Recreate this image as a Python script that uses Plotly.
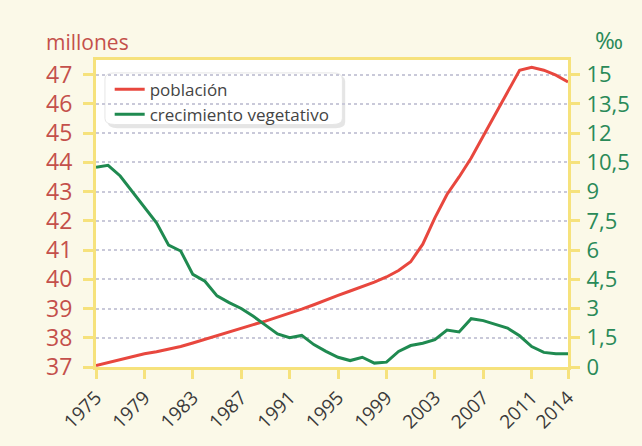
import plotly.graph_objects as go

years = list(range(1975, 2015))
poblacion = [37.05, 37.15, 37.25, 37.35, 37.45, 37.52, 37.6, 37.7, 37.82, 37.95,
             38.07, 38.2, 38.32, 38.45, 38.57, 38.7, 38.83, 38.98, 39.13, 39.3,
             39.45, 39.6, 39.75, 39.9, 40.08, 40.3, 40.6, 41.2, 42.1, 42.9,
             43.5, 44.15, 44.9, 45.65, 46.4, 47.15, 47.25, 47.15, 46.98, 46.75]
crecimiento = [10.25, 10.35, 9.8, 9.0, 8.2, 7.4, 6.25, 5.95, 4.75, 4.4,
               3.65, 3.3, 3.0, 2.6, 2.15, 1.7, 1.5, 1.62, 1.15, 0.8,
               0.5, 0.33, 0.5, 0.2, 0.25, 0.8, 1.1, 1.22, 1.4, 1.9,
               1.8, 2.48, 2.38, 2.2, 2.0, 1.6, 1.05, 0.75, 0.68, 0.68]
x_ticks = [1975, 1979, 1983, 1987, 1991, 1995, 1999, 2003, 2007, 2011, 2014]
left_ticks = [37, 38, 39, 40, 41, 42, 43, 44, 45, 46, 47]
right_ticks = [0, 1.5, 3, 4.5, 6, 7.5, 9, 10.5, 12, 13.5, 15]
right_labels = ["0", "1,5", "3", "4,5", "6", "7,5", "9", "10,5", "12", "13,5", "15"]

RED = "#e8473e"
GREEN = "#1f8a50"
REDTXT = "#c4504b"
GREENTXT = "#2a8a58"
YEL = "#f6e27c"
BG = "#fbf9e8"
FONT = "Open Sans"

fig = go.Figure()
fig.add_trace(go.Scatter(x=years, y=poblacion, name="población", mode="lines",
                         line=dict(color=RED, width=3), yaxis="y"))
fig.add_trace(go.Scatter(x=years, y=crecimiento, name="crecimiento vegetativo", mode="lines",
                         line=dict(color=GREEN, width=3), yaxis="y2"))

fig.update_layout(
    width=642, height=446,
    margin=dict(l=96, r=69, t=60, b=76),
    paper_bgcolor=BG,
    plot_bgcolor="white",
    font=dict(family=FONT),
    xaxis=dict(range=[1975, 2014], tickvals=x_ticks, tickangle=-45,
               showline=True, linecolor=YEL, linewidth=3, mirror=True,
               ticks="outside", tickcolor=YEL, ticklen=9, tickwidth=3,
               showgrid=False, zeroline=False,
               tickfont=dict(size=19, color="#3a3a3a", family=FONT)),
    yaxis=dict(range=[37, 47.5], tickvals=left_ticks,
               showline=True, linecolor=YEL, linewidth=3,
               ticks="outside", tickcolor=YEL, ticklen=10, tickwidth=3,
               ticklabelstandoff=6,
               showgrid=True, gridcolor="#c9c9d9", griddash="dot", gridwidth=1.5,
               zeroline=False,
               tickfont=dict(size=23, color=REDTXT, family=FONT)),
    yaxis2=dict(range=[0, 15.75], tickvals=right_ticks, ticktext=right_labels,
                overlaying="y", side="right",
                showline=True, linecolor=YEL, linewidth=3,
                ticks="outside", tickcolor=YEL, ticklen=9, tickwidth=3,
                ticklabelstandoff=2,
                showgrid=False, zeroline=False,
                tickfont=dict(size=22, color=GREENTXT, family=FONT)),
    legend=dict(x=0.029, y=0.962, xanchor="left", yanchor="top",
                bgcolor="rgba(0,0,0,0)", borderwidth=0,
                font=dict(size=17, color="#444444", family=FONT),
                tracegroupgap=0, itemwidth=30),
    showlegend=True,
)

# rounded legend box with a soft shadow
def rounded(x0, y0, x1, y1, r):
    return (f"M{x0+r},{y0} L{x1-r},{y0} Q{x1},{y0} {x1},{y0+r} L{x1},{y1-r} "
            f"Q{x1},{y1} {x1-r},{y1} L{x0+r},{y1} Q{x0},{y1} {x0},{y1-r} "
            f"L{x0},{y0+r} Q{x0},{y0} {x0+r},{y0} Z")

fig.add_shape(type="path", xref="paper", yref="paper",
              path=rounded(0.025, 0.778, 0.528, 0.950, 0.02),
              fillcolor="rgba(0,0,0,0.10)", line=dict(width=0), layer="below")
fig.add_shape(type="path", xref="paper", yref="paper",
              path=rounded(0.019, 0.790, 0.522, 0.958, 0.02),
              fillcolor="white", line=dict(color="#e6e6e6", width=1), layer="below")

fig.add_annotation(text="millones", xref="paper", yref="paper", x=-0.11, y=1.006,
                   xanchor="left", yanchor="bottom", showarrow=False,
                   font=dict(size=21, color=REDTXT, family=FONT))
fig.add_annotation(text="‰", xref="paper", yref="paper", x=1.053, y=1.006,
                   xanchor="left", yanchor="bottom", showarrow=False,
                   font=dict(size=24, color=GREENTXT, family=FONT))

fig.write_html("out.html", config={"displayModeBar": False},
               post_script=f"document.body.style.margin='0';document.body.style.background='{BG}';")
